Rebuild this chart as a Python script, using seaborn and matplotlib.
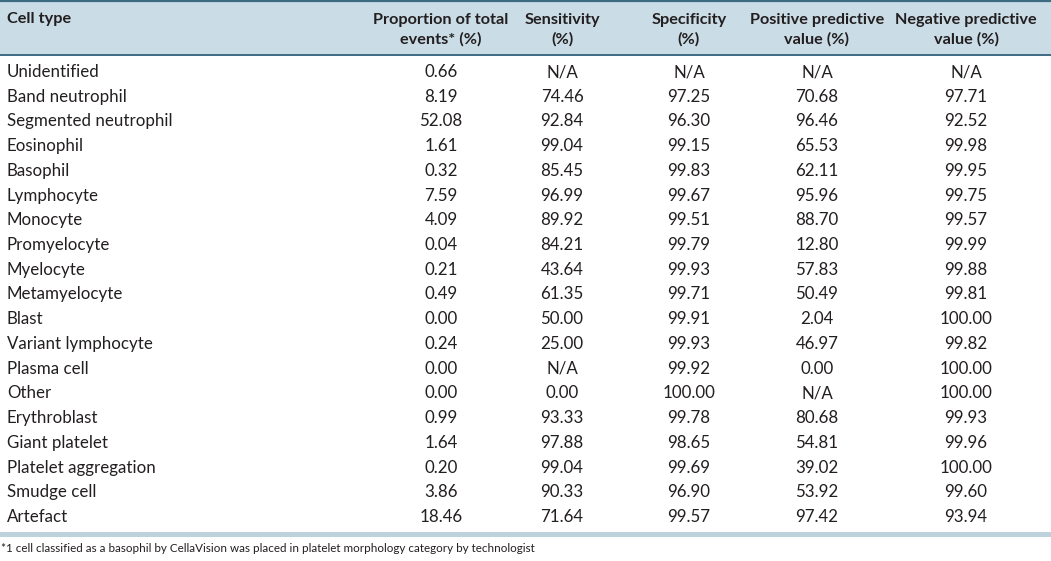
import matplotlib
matplotlib.use("Agg")
import matplotlib.pyplot as plt
import seaborn as sns

sns.set_theme(style="white")
plt.rcParams['font.family'] = ['Lato', 'DejaVu Sans']

headers = ["Cell type", "Proportion of total\nevents* (%)", "Sensitivity\n(%)",
           "Specificity\n(%)", "Positive predictive\nvalue (%)", "Negative predictive\nvalue (%)"]
cell_types = ["Unidentified", "Band neutrophil", "Segmented neutrophil", "Eosinophil", "Basophil",
              "Lymphocyte", "Monocyte", "Promyelocyte", "Myelocyte", "Metamyelocyte", "Blast",
              "Variant lymphocyte", "Plasma cell", "Other", "Erythroblast", "Giant platelet",
              "Platelet aggregation", "Smudge cell", "Artefact"]
proportion = ["0.66", "8.19", "52.08", "1.61", "0.32", "7.59", "4.09", "0.04", "0.21", "0.49",
              "0.00", "0.24", "0.00", "0.00", "0.99", "1.64", "0.20", "3.86", "18.46"]
sensitivity = ["N/A", "74.46", "92.84", "99.04", "85.45", "96.99", "89.92", "84.21", "43.64", "61.35",
               "50.00", "25.00", "N/A", "0.00", "93.33", "97.88", "99.04", "90.33", "71.64"]
specificity = ["N/A", "97.25", "96.30", "99.15", "99.83", "99.67", "99.51", "99.79", "99.93", "99.71",
               "99.91", "99.93", "99.92", "100.00", "99.78", "98.65", "99.69", "96.90", "99.57"]
ppv = ["N/A", "70.68", "96.46", "65.53", "62.11", "95.96", "88.70", "12.80", "57.83", "50.49",
       "2.04", "46.97", "0.00", "N/A", "80.68", "54.81", "39.02", "53.92", "97.42"]
npv = ["N/A", "97.71", "92.52", "99.98", "99.95", "99.75", "99.57", "99.99", "99.88", "99.81",
       "100.00", "99.82", "100.00", "100.00", "99.93", "99.96", "100.00", "99.60", "93.94"]
footnote = "*1 cell classified as a basophil by CellaVision was placed in platelet morphology category by technologist"

W, H = 1051, 561
fig = plt.figure(figsize=(W / 100, H / 100), dpi=100)
ax = fig.add_axes([0, 0, 1, 1])
ax.set_xlim(0, W)
ax.set_ylim(H, 0)
ax.axis("off")

header_bg = "#cadce6"
dark_line = "#3d6b82"
text_col = "#231f20"

ax.axhspan(0, 54, color=header_bg, lw=0)
ax.axhline(0.8, color=dark_line, lw=1.6)
ax.axhline(54.5, color=dark_line, lw=1.4)
ax.axhspan(531.5, 536.5, color="#bdd2dd", lw=0)

col_x = [7, 441, 562, 689, 817, 966]
fs = 12.2
hfs = 11.7
for j, h in enumerate(headers):
    ha = "left" if j == 0 else "center"
    y = 19 if j == 0 else 30
    ax.text(col_x[j], y, h, ha=ha, va="center", fontsize=hfs, fontweight="bold",
            color=text_col, linespacing=1.45)

columns = [cell_types, proportion, sensitivity, specificity, ppv, npv]
row0, dy = 72, 24.72
for i in range(len(cell_types)):
    y = row0 + i * dy
    for j, col in enumerate(columns):
        ha = "left" if j == 0 else "center"
        ax.text(col_x[j], y, col[i], ha=ha, va="center", fontsize=fs, color=text_col)

ax.text(1, 549, footnote, ha="left", va="center", fontsize=8.4, color=text_col)

fig.savefig("out.png", dpi=100)
